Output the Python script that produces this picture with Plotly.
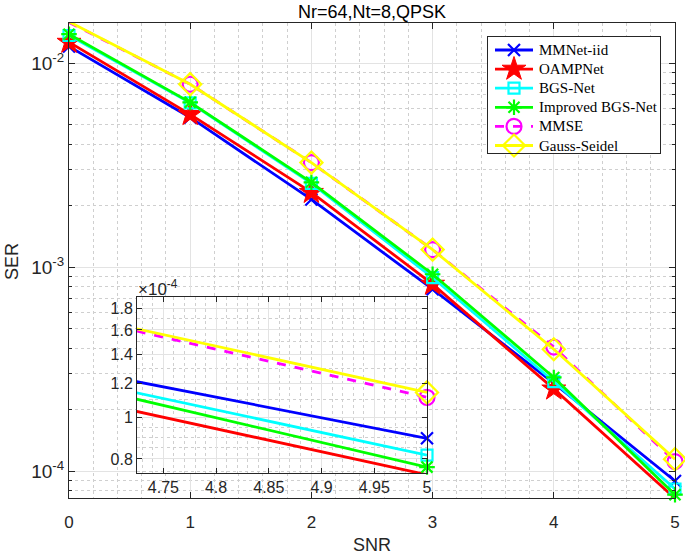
import plotly.graph_objects as go

snr = [0, 1, 2, 3, 4, 5]
mmnet_iid = [0.0121, 0.00543, 0.00215, 0.00078, 2.70e-4, 0.894e-4]
oampnet = [0.0127, 0.00562, 0.00233, 0.000826, 2.53e-4, 0.735e-4]
bgs_net = [0.0137, 0.0064, 0.00258, 0.00089, 2.75e-4, 0.817e-4]
improved_bgs = [0.0139, 0.00644, 0.00261, 0.000924, 2.88e-4, 0.766e-4]
mmse = [0.0159, 0.0079, 0.00326, 0.00122, 4.06e-4, 1.114e-4]
gauss_seidel = [0.0160, 0.0079, 0.00326, 0.00122, 3.96e-4, 1.144e-4]

names = ["MMNet-iid", "OAMPNet", "BGS-Net", "Improved BGS-Net", "MMSE", "Gauss-Seidel"]
series = [mmnet_iid, oampnet, bgs_net, improved_bgs, mmse, gauss_seidel]
colors = ["#0000FF", "#FF0000", "#00FFFF", "#00FF00", "#FF00FF", "#FFFF00"]
symbols = ["x-thin", "star", "square-open", "asterisk", "circle-open", "diamond-open"]
sizes = [12, 18, 11, 13, 15, 17]
dashes = ["solid", "solid", "solid", "solid", "dash", "solid"]

main_yticks = [1e-4, 1e-3, 1e-2]
main_yticktext = ["10<sup>-4</sup>", "10<sup>-3</sup>", "10<sup>-2</sup>"]
inset_xticks = [4.75, 4.8, 4.85, 4.9, 4.95, 5]
inset_xticktext = ["4.75", "4.8", "4.85", "4.9", "4.95", "5"]
inset_yticks = [0.8e-4, 1.0e-4, 1.2e-4, 1.4e-4, 1.6e-4, 1.8e-4]
inset_yticktext = ["0.8", "1", "1.2", "1.4", "1.6", "1.8"]
inset_yminor = [0.75e-4, 0.85e-4, 0.9e-4, 0.95e-4, 1.1e-4, 1.3e-4, 1.5e-4, 1.7e-4, 1.9e-4]

main_yminor = [k * 10.0 ** e for e in (-5, -4, -3, -2) for k in range(2, 10)]

W, H = 685, 555
# plot area in pixels
L, R, T, B = 69, 675, 23, 498
PW, PH = R - L, B - T


def px_x(p):
    return (p - L) / PW


def px_y(p):
    return (B - p) / PH


fig = go.Figure()

# main plot
for name, ys, c, s, sz, d in zip(names, series, colors, symbols, sizes, dashes):
    lw = 1 if s == "star" else 2.2
    fig.add_trace(go.Scatter(
        x=snr, y=ys, name=name, mode="lines+markers", showlegend=False,
        line=dict(color=c, width=2.8, dash=d),
        marker=dict(symbol=s, size=sz, color=c, line=dict(color=c, width=lw)),
        cliponaxis=False, xaxis="x", yaxis="y",
    ))

# inset (only the last point's marker visible)
last_only = [0] * (len(snr) - 1) + [1]
for name, ys, c, s, sz, d in zip(names, series, colors, symbols, sizes, dashes):
    lw = 1 if s == "star" else 2.2
    fig.add_trace(go.Scatter(
        x=snr, y=ys, name=name, mode="lines+markers", showlegend=False,
        line=dict(color=c, width=2.8, dash=d),
        marker=dict(symbol=s, size=sz, color=c, opacity=last_only,
                    line=dict(color=c, width=lw)),
        cliponaxis=False, xaxis="x2", yaxis="y2",
    ))

# manual legend (MATLAB style box) on its own small axes, in pixel units
LG_L, LG_R, LG_T, LG_B = 488, 660, 37, 153
row_y0, row_dy = 50, 19.1
samp_x = [495, 514, 533]
for i, (name, c, s, sz, d) in enumerate(zip(names, colors, symbols, sizes, dashes)):
    lw = 1 if s == "star" else 2.2
    yy = row_y0 + i * row_dy
    fig.add_trace(go.Scatter(
        x=samp_x, y=[yy] * 3, mode="lines+markers", showlegend=False, hoverinfo="skip",
        line=dict(color=c, width=2.8, dash=d),
        marker=dict(symbol=s, size=sz, color=c, opacity=[0, 1, 0],
                    line=dict(color=c, width=lw)),
        cliponaxis=False, xaxis="x3", yaxis="y3",
    ))
    fig.add_annotation(
        text=name, xref="x3", yref="y3", x=537, y=yy, xanchor="left", yanchor="middle",
        showarrow=False, font=dict(family="Liberation Serif, Times New Roman, serif",
                                   size=15, color="black"),
    )

axcol = "#262626"
gridcol = "#e3e3e3"
mingrid = "#cfcfcf"
font_sans = "Liberation Sans, Arial, sans-serif"

fig.update_layout(
    width=W, height=H,
    margin=dict(l=L, r=W - R, t=T, b=H - B, autoexpand=False),
    paper_bgcolor="white", plot_bgcolor="white",
    font=dict(family=font_sans, color=axcol, size=16),
    title=dict(text="Nr=64,Nt=8,QPSK", x=(L + R) / 2 / W, xanchor="center",
               y=1 - 12 / H, yanchor="middle", font=dict(size=18, color="black")),
    showlegend=False,
    xaxis=dict(
        domain=[0, 1], range=[0, 5], tickvals=snr, ticks="inside", ticklen=6,
        tickcolor=axcol, showline=True, linecolor=axcol, linewidth=1, mirror="ticks",
        showgrid=True, gridcolor=gridcol, gridwidth=1, zeroline=False,
        minor=dict(dtick=0.2, showgrid=True, griddash="dot", gridcolor=mingrid, ticks=""),
        tickfont=dict(size=17), automargin=False, ticklabelstandoff=9,
    ),
    yaxis=dict(
        domain=[0, 1], type="log", range=[-4.132, -1.802],
        tickvals=main_yticks, ticktext=main_yticktext, ticks="inside", ticklen=6,
        tickcolor=axcol, showline=True, linecolor=axcol, linewidth=1, mirror="ticks",
        showgrid=True, gridcolor=gridcol, zeroline=False,
        minor=dict(tickvals=main_yminor, showgrid=True, griddash="dot", gridcolor=mingrid,
                   ticks="inside", ticklen=3, tickcolor=axcol),
        tickfont=dict(size=19), automargin=False,
    ),
    xaxis2=dict(
        domain=[px_x(137), px_x(427)], anchor="y2",
        range=[4.725, 5.0], tickvals=inset_xticks, ticktext=inset_xticktext,
        ticks="inside", ticklen=5, tickcolor=axcol, showline=True, linecolor=axcol,
        linewidth=1, mirror="ticks", showgrid=True, gridcolor=gridcol, zeroline=False,
        minor=dict(dtick=0.01, showgrid=True, griddash="dot", gridcolor=mingrid, ticks=""),
        tickfont=dict(size=16), automargin=False,
    ),
    yaxis2=dict(
        domain=[px_y(473), px_y(297)], anchor="x2", type="log",
        range=[-4.1296, -3.719], tickvals=inset_yticks, ticktext=inset_yticktext,
        ticks="inside", ticklen=5, tickcolor=axcol, showline=True, linecolor=axcol,
        linewidth=1, mirror="ticks", showgrid=True, gridcolor=gridcol, zeroline=False,
        minor=dict(tickvals=inset_yminor, showgrid=True, griddash="dot", gridcolor=mingrid,
                   ticks=""),
        tickfont=dict(size=16), automargin=False,
    ),
    xaxis3=dict(
        domain=[px_x(LG_L), px_x(LG_R)], anchor="y3", range=[LG_L, LG_R],
        showgrid=False, zeroline=False, showticklabels=False, ticks="",
        showline=True, linecolor=axcol, linewidth=1, mirror=True, fixedrange=True,
    ),
    yaxis3=dict(
        domain=[px_y(LG_B), px_y(LG_T)], anchor="x3", range=[LG_B, LG_T],
        showgrid=False, zeroline=False, showticklabels=False, ticks="",
        showline=True, linecolor=axcol, linewidth=1, mirror=True, fixedrange=True,
    ),
)

fig.add_annotation(
    text="×10<sup>-4</sup>", xref="paper", yref="paper",
    x=px_x(136), y=px_y(288), xanchor="left", yanchor="middle",
    showarrow=False, font=dict(size=17, color=axcol, family=font_sans),
)
fig.add_annotation(
    text="SNR", xref="paper", yref="paper", x=px_x((L + R) / 2), y=px_y(545),
    xanchor="center", yanchor="middle", showarrow=False,
    font=dict(size=18, color=axcol, family=font_sans),
)
fig.add_annotation(
    text="SER", xref="paper", yref="paper", x=px_x(12), y=px_y(262), textangle=-90,
    xanchor="center", yanchor="middle", showarrow=False,
    font=dict(size=18, color=axcol, family=font_sans),
)

# remove the default 8px page margin so the figure starts at the window corner
fig.write_html("out.html", config={"displayModeBar": False},
               post_script="document.body.style.margin='0px';")
